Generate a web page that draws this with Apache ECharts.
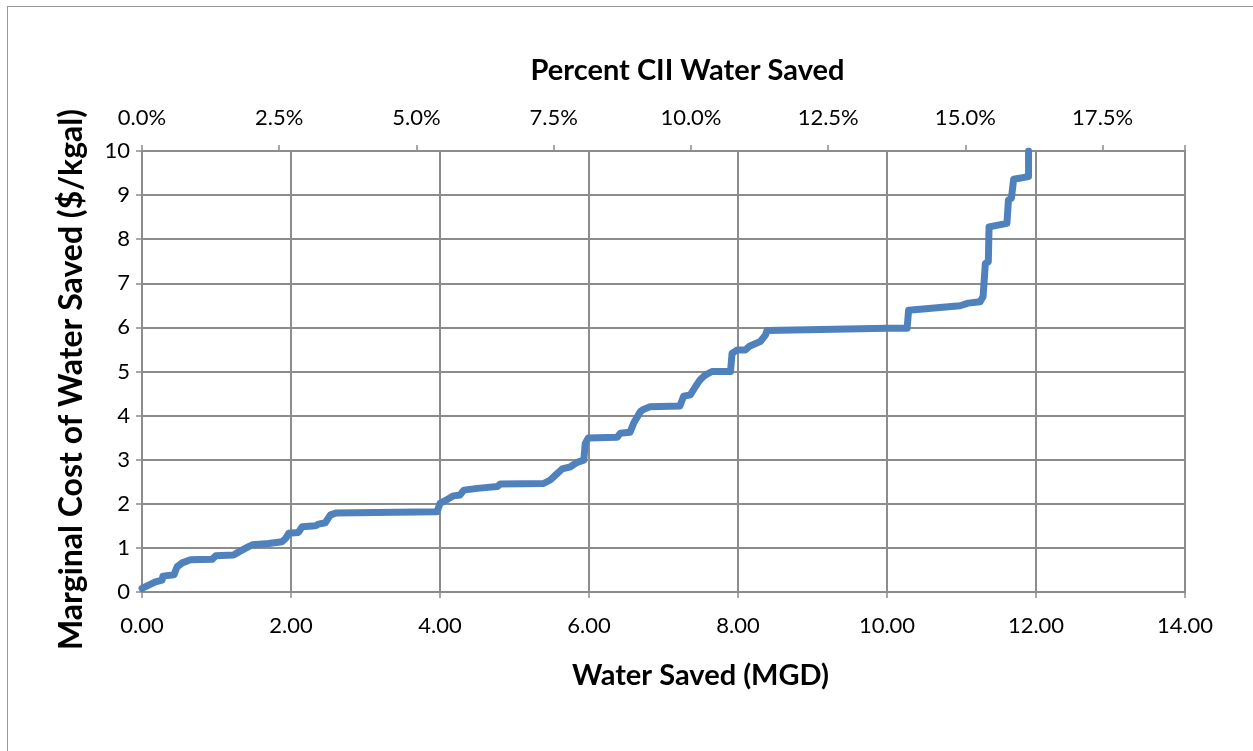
<!DOCTYPE html>
<html>
<head>
<meta charset="utf-8">
<script src="https://cdn.jsdelivr.net/npm/echarts@6/dist/echarts.min.js"></script>
<style>
  html, body { margin: 0; padding: 0; background: #fff; }
  #frame { position: absolute; left: 7px; top: 6px; width: 1260px; height: 760px; border: 1px solid #999; box-sizing: border-box; }
  #chart { position: absolute; left: 0; top: 0; width: 1253px; height: 751px; }
</style>
</head>
<body>
<div id="frame"></div>
<div id="chart"></div>
<script>
// water saved (MGD) and marginal cost ($/kgal)
const waterSaved = [
  0.00, 0.18, 0.27, 0.28, 0.43, 0.47, 0.54, 0.65, 0.94, 0.99,
  1.23, 1.30, 1.43, 1.48, 1.70, 1.88, 1.93, 1.97, 2.10, 2.15,
  2.33, 2.37, 2.46, 2.53, 2.60, 3.96, 4.00, 4.07, 4.18, 4.27,
  4.32, 4.50, 4.77, 4.81, 5.39, 5.48, 5.55, 5.64, 5.75, 5.84,
  5.93, 5.95, 5.99, 6.38, 6.42, 6.55, 6.60, 6.69, 6.73, 6.82,
  7.22, 7.27, 7.36, 7.43, 7.49, 7.56, 7.65, 7.90, 7.92, 7.99,
  8.10, 8.16, 8.30, 8.37, 8.39, 10.00, 10.27, 10.29, 10.31, 10.98,
  11.09, 11.25, 11.29, 11.32, 11.36, 11.37, 11.61, 11.63, 11.67, 11.70,
  11.90, 11.90
];
const marginalCost = [
  0.08, 0.23, 0.27, 0.36, 0.39, 0.57, 0.66, 0.73, 0.74, 0.82,
  0.84, 0.91, 1.03, 1.07, 1.10, 1.14, 1.22, 1.33, 1.35, 1.48,
  1.50, 1.54, 1.57, 1.75, 1.79, 1.82, 2.01, 2.07, 2.18, 2.20,
  2.31, 2.35, 2.39, 2.45, 2.46, 2.54, 2.65, 2.79, 2.84, 2.94,
  2.99, 3.37, 3.49, 3.51, 3.60, 3.62, 3.83, 4.09, 4.14, 4.20,
  4.22, 4.44, 4.47, 4.66, 4.81, 4.92, 5.00, 5.00, 5.41, 5.49,
  5.49, 5.58, 5.68, 5.83, 5.93, 5.98, 5.98, 6.39, 6.43, 6.49,
  6.55, 6.58, 6.70, 7.45, 7.49, 8.28, 8.36, 8.89, 8.93, 9.36,
  9.42, 10.0
];
// top axis (percent of CII water) range
const pctMax = 19.0;
const pctStep = 2.5;

const curve = waterSaved.map((x, i) => [x, marginalCost[i]]);

const FONT = "Lato, 'Open Sans', sans-serif";
const GRID = "#8c8c8c";

const option = {
  animation: false,
  textStyle: { fontFamily: FONT, color: "#000" },
  grid: { left: 142, right: 68, top: 151, bottom: 159 },
  xAxis: [
    {
      type: "value",
      position: "bottom",
      min: 0,
      max: 14,
      interval: 2,
      name: "Water Saved (MGD)",
      nameLocation: "middle",
      nameGap: 69,
      nameTextStyle: { fontSize: 29, fontWeight: "bold", color: "#000", padding: [0, 0, 0, 74] },
      axisLine: { lineStyle: { color: GRID, width: 2 } },
      axisTick: { show: true, length: 6, lineStyle: { color: GRID, width: 1.5 } },
      axisLabel: {
        fontSize: 22,
        color: "#000",
        margin: 23,
        formatter: (v) => v.toFixed(2)
      },
      splitLine: { show: true, lineStyle: { color: GRID, width: 2 } }
    },
    {
      type: "value",
      position: "top",
      min: 0,
      max: pctMax,
      interval: pctStep,
      name: "Percent CII Water Saved",
      nameLocation: "middle",
      nameGap: 66,
      nameTextStyle: { fontSize: 29, fontWeight: "bold", color: "#000", padding: [0, 0, 0, 48] },
      axisLine: { lineStyle: { color: GRID, width: 2 } },
      axisTick: { show: true, length: 6, lineStyle: { color: GRID, width: 1.5 } },
      axisLabel: {
        fontSize: 22,
        color: "#000",
        margin: 22,
        formatter: function (v) {
          if (Math.abs(v / pctStep - Math.round(v / pctStep)) > 1e-6) return "";
          return v.toFixed(1) + "%";
        }
      },
      splitLine: { show: false }
    }
  ],
  yAxis: {
    type: "value",
    min: 0,
    max: 10,
    interval: 1,
    name: "Marginal Cost of Water Saved ($/kgal)",
    nameLocation: "middle",
    nameGap: 54,
    nameRotate: 90,
    nameTextStyle: { fontSize: 32, fontWeight: "bold", color: "#000", padding: [0, 16, 0, 0] },
    axisLine: { show: true, lineStyle: { color: GRID, width: 2 } },
    axisTick: { show: true, length: 6, lineStyle: { color: GRID, width: 1.5 } },
    axisLabel: { fontSize: 22, color: "#000", margin: 12 },
    splitLine: { show: true, lineStyle: { color: GRID, width: 2 } }
  },
  series: [
    {
      type: "line",
      xAxisIndex: 0,
      data: curve,
      showSymbol: false,
      clip: true,
      lineStyle: { color: "#4f81bd", width: 7, join: "round", cap: "round" },
      z: 5
    }
  ]
};

var myChart = echarts.init(document.getElementById("chart"));
myChart.setOption(option);
</script>
</body>
</html>
